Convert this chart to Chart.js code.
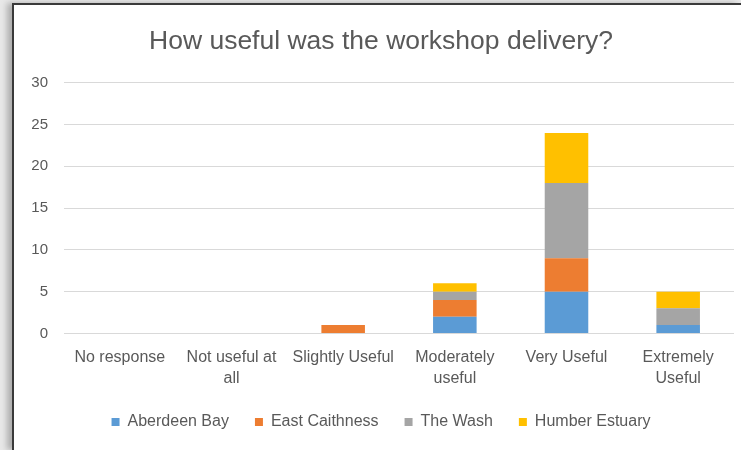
<!DOCTYPE html>
<html>
<head>
<meta charset="utf-8">
<script src="https://cdn.jsdelivr.net/npm/chart.js@4"></script>
<style>
  html, body { margin: 0; padding: 0; background: #e8e8e8; }
  #frame {
    position: absolute; left: 12px; top: 3px; width: 729px; height: 447px;
    background: #fff; border-left: 2px solid #3a3a3a; border-top: 2px solid #3a3a3a;
    box-sizing: border-box; box-shadow: -5px 0 6px rgba(0,0,0,0.25);
  }
  #chart { position: absolute; left: 0; top: 0; }
</style>
</head>
<body>
<div id="frame"></div>
<canvas id="chart" width="741" height="450"></canvas>
<script>
// categories and counts per workshop site
const categories = ['No response', ['Not useful at', 'all'], 'Slightly Useful', ['Moderately', 'useful'], 'Very Useful', ['Extremely', 'Useful']];
const aberdeenBay = [0, 0, 0, 2, 5, 1];
const eastCaithness = [0, 0, 1, 2, 4, 0];
const theWash = [0, 0, 0, 1, 9, 2];
const humberEstuary = [0, 0, 0, 1, 6, 2];
const yTicks = [0, 5, 10, 15, 20, 25, 30];

const textColor = '#595959';
const fontFamily = "'Liberation Sans', Arial, sans-serif";

const series = [
    { label: 'Aberdeen Bay', data: aberdeenBay, color: '#5b9bd5' },
    { label: 'East Caithness', data: eastCaithness, color: '#ed7d31' },
    { label: 'The Wash', data: theWash, color: '#a5a5a5' },
    { label: 'Humber Estuary', data: humberEstuary, color: '#ffc000' }
];

const ctx = document.getElementById('chart').getContext('2d');
new Chart(ctx, {
    type: 'bar',
    data: {
        labels: categories,
        datasets: series.map(s => ({
            label: s.label,
            data: s.data,
            backgroundColor: s.color,
            borderWidth: 0,
            categoryPercentage: 1,
            barPercentage: 0.39
        }))
    },
    options: {
        responsive: false,
        animation: false,
        layout: { padding: { left: 28, right: 7, top: 0, bottom: 10 } },
        plugins: {
            title: {
                display: true,
                text: 'How useful was the workshop delivery?',
                color: textColor,
                font: { family: fontFamily, size: 26.5, weight: 'normal' },
                padding: { top: 26, bottom: 25 }
            },
            legend: {
                position: 'bottom',
                labels: {
                    color: textColor,
                    font: { family: fontFamily, size: 16 },
                    boxWidth: 8,
                    boxHeight: 8,
                    padding: 26
                }
            },
            tooltip: { enabled: false }
        },
        scales: {
            x: {
                stacked: true,
                grid: { display: false },
                border: { display: false },
                afterFit: axis => { axis.height -= 7; },
                ticks: {
                    color: textColor,
                    font: { family: fontFamily, size: 16, lineHeight: 1.3 },
                    maxRotation: 0,
                    autoSkip: false,
                    padding: 6
                }
            },
            y: {
                stacked: true,
                min: 0,
                max: 30,
                afterBuildTicks: axis => { axis.ticks = yTicks.map(v => ({ value: v })); },
                afterFit: axis => { axis.width = 36; },
                grid: { color: '#d9d9d9', lineWidth: 1, drawTicks: false },
                border: { display: false },
                ticks: {
                    color: textColor,
                    font: { family: fontFamily, size: 15 },
                    padding: 16
                }
            }
        }
    }
});
</script>
</body>
</html>
